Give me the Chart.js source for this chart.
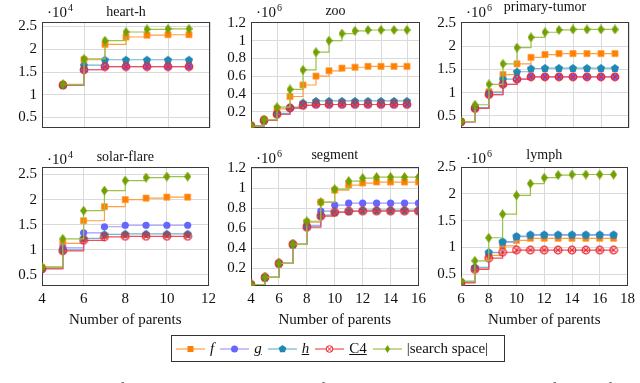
<!DOCTYPE html>
<html>
<head>
<meta charset="utf-8">
<script src="https://cdn.jsdelivr.net/npm/chart.js@4.4.0/dist/chart.umd.min.js"></script>
<style>
body { margin: 0; width: 640px; height: 383px; overflow: hidden; background: #fff; position: relative; font-family: "Liberation Serif", serif; color: #111; }
canvas { position: absolute; }
#legend { position: absolute; left: 171px; top: 335px; width: 328px; height: 25px; border: 1px solid #333; display: flex; align-items: center; padding-left: 4px; font-size: 15px; box-sizing: content-box; }
#legend svg { width: 29px; height: 12px; margin-right: 5px; }
#legend span { margin-right: 6px; }
#legend .u { text-decoration: underline; }
#caption { position: absolute; left: 0; top: 380px; font-size: 15px; white-space: nowrap; }
</style>
</head>
<body>
<canvas id="heart" width="218" height="142" style="left:2px;top:0px"></canvas>
<canvas id="zoo" width="219" height="142" style="left:211px;top:0px"></canvas>
<canvas id="tumor" width="218" height="142" style="left:421px;top:0px"></canvas>
<canvas id="solar" width="218" height="184" style="left:2px;top:145px"></canvas>
<canvas id="segment" width="219" height="184" style="left:211px;top:145px"></canvas>
<canvas id="lymph" width="218" height="184" style="left:421px;top:145px"></canvas>

<div id="legend">
  <svg><line x1="0" y1="6" x2="29" y2="6" stroke="#ffa040" stroke-width="1.2"/><rect x="11.5" y="3" width="6" height="6" fill="#ff8000"/></svg><span><i>f</i></span>
  <svg><line x1="0" y1="6" x2="29" y2="6" stroke="#9a9aff" stroke-width="1.2"/><circle cx="14.5" cy="6" r="3.5" fill="#6666ff"/></svg><span class="u"><i>g</i></span>
  <svg><line x1="0" y1="6" x2="29" y2="6" stroke="#72b3cf" stroke-width="1.2"/><polygon points="14.5,2 18.3,4.8 16.9,9.2 12.1,9.2 10.7,4.8" fill="#2089b3"/></svg><span class="u"><i>h</i></span>
  <svg><line x1="0" y1="6" x2="29" y2="6" stroke="#ee5059" stroke-width="1.2"/><circle cx="14.5" cy="6" r="3.3" fill="#fff" stroke="#e8232d" stroke-width="1"/><line x1="12.2" y1="3.7" x2="16.8" y2="8.3" stroke="#e8232d"/><line x1="16.8" y1="3.7" x2="12.2" y2="8.3" stroke="#e8232d"/></svg><span class="u">C4</span>
  <svg><line x1="0" y1="6" x2="29" y2="6" stroke="#9cc24a" stroke-width="1.2"/><polygon points="14.5,2 17,6 14.5,10 12,6" fill="#72a000"/></svg><span>|search space|</span>
</div>
<div id="caption">Figure 3: Number of parent sets remaining and size of the search space versus the number of parents for datasets with different bounds.</div>

<script>
// values, heart-h and solar-flare in units of 1e4, others in 1e6
const heartX = [5, 6, 7, 8, 9, 10, 11];
const heartF = [1.22, 1.77, 2.11, 2.27, 2.31, 2.32, 2.32];
const heartG = [1.21, 1.55, 1.62, 1.62, 1.62, 1.62, 1.62];
const heartH = [1.22, 1.65, 1.77, 1.77, 1.77, 1.77, 1.77];
const heartC4 = [1.21, 1.55, 1.62, 1.62, 1.62, 1.62, 1.62];
const heartSpace = [1.23, 1.79, 2.19, 2.38, 2.44, 2.45, 2.45];

const zooX = [4, 5, 6, 7, 8, 9, 10, 11, 12, 13, 14, 15, 16];
const zooF = [0.04, 0.11, 0.23, 0.37, 0.50, 0.60, 0.66, 0.69, 0.70, 0.71, 0.71, 0.71, 0.71];
const zooG = [0.04, 0.10, 0.17, 0.24, 0.27, 0.28, 0.28, 0.28, 0.28, 0.28, 0.28, 0.28, 0.28];
const zooH = [0.04, 0.10, 0.18, 0.25, 0.30, 0.32, 0.32, 0.32, 0.32, 0.32, 0.32, 0.32, 0.32];
const zooC4 = [0.04, 0.10, 0.17, 0.24, 0.27, 0.28, 0.28, 0.28, 0.28, 0.28, 0.28, 0.28, 0.28];
const zooSpace = [0.04, 0.11, 0.25, 0.45, 0.67, 0.87, 1.0, 1.08, 1.11, 1.12, 1.12, 1.12, 1.12];

const tumorX = [6, 7, 8, 9, 10, 11, 12, 13, 14, 15, 16, 17];
const tumorF = [0.38, 0.68, 1.02, 1.39, 1.62, 1.76, 1.82, 1.84, 1.84, 1.84, 1.84, 1.84];
const tumorG = [0.37, 0.66, 0.96, 1.18, 1.29, 1.34, 1.34, 1.34, 1.34, 1.34, 1.34, 1.34];
const tumorH = [0.38, 0.68, 1.0, 1.29, 1.45, 1.52, 1.53, 1.53, 1.53, 1.53, 1.53, 1.53];
const tumorC4 = [0.37, 0.66, 0.96, 1.18, 1.29, 1.34, 1.34, 1.34, 1.34, 1.34, 1.34, 1.34];
const tumorSpace = [0.38, 0.74, 1.18, 1.62, 1.97, 2.19, 2.30, 2.35, 2.36, 2.36, 2.36, 2.36];

const solarX = [4, 5, 6, 7, 8, 9, 10, 11];
const solarF = [0.65, 1.13, 1.58, 1.86, 2.0, 2.03, 2.05, 2.05];
const solarG = [0.63, 1.04, 1.34, 1.46, 1.49, 1.49, 1.49, 1.49];
const solarH = [0.63, 1.0, 1.23, 1.31, 1.32, 1.32, 1.32, 1.32];
const solarC4 = [0.62, 0.98, 1.19, 1.26, 1.27, 1.27, 1.27, 1.27];
const solarSpace = [0.66, 1.22, 1.78, 2.18, 2.38, 2.44, 2.46, 2.46];

const segX = [4, 5, 6, 7, 8, 9, 10, 11, 12, 13, 14, 15, 16];
const segF = [0.04, 0.11, 0.25, 0.44, 0.66, 0.86, 0.98, 1.03, 1.05, 1.06, 1.06, 1.06, 1.06];
const segG = [0.04, 0.11, 0.25, 0.44, 0.63, 0.77, 0.83, 0.85, 0.85, 0.85, 0.85, 0.85, 0.85];
const segH = [0.04, 0.11, 0.25, 0.44, 0.62, 0.73, 0.76, 0.77, 0.78, 0.78, 0.78, 0.78, 0.78];
const segC4 = [0.04, 0.11, 0.25, 0.44, 0.61, 0.72, 0.76, 0.77, 0.77, 0.77, 0.77, 0.77, 0.77];
const segSpace = [0.04, 0.11, 0.25, 0.44, 0.67, 0.86, 0.99, 1.07, 1.10, 1.11, 1.11, 1.11, 1.11];

const lymphX = [6, 7, 8, 9, 10, 11, 12, 13, 14, 15, 16, 17];
const lymphF = [0.35, 0.60, 0.85, 1.03, 1.13, 1.17, 1.17, 1.17, 1.17, 1.17, 1.17, 1.17];
const lymphG = [0.35, 0.62, 0.90, 1.10, 1.20, 1.23, 1.23, 1.23, 1.23, 1.23, 1.23, 1.23];
const lymphH = [0.36, 0.63, 0.91, 1.11, 1.21, 1.24, 1.24, 1.24, 1.24, 1.24, 1.24, 1.24];
const lymphC4 = [0.34, 0.59, 0.80, 0.91, 0.95, 0.95, 0.95, 0.95, 0.95, 0.95, 0.95, 0.95];
const lymphSpace = [0.37, 0.75, 1.18, 1.62, 1.97, 2.19, 2.30, 2.35, 2.36, 2.36, 2.36, 2.36];

// tick labels
const xTicks4to12 = [4, 6, 8, 10, 12];
const xTicks4to16 = [4, 6, 8, 10, 12, 14, 16];
const xTicks6to18 = [6, 8, 10, 12, 14, 16, 18];
const yTicksHalf = [0.5, 1, 1.5, 2, 2.5];
const yTicksFifth = [0.2, 0.4, 0.6, 0.8, 1, 1.2];

// marker images for the styles Chart.js does not have
function pentagon(color) {
    var c = document.createElement('canvas');
    c.width = 10; c.height = 10;
    var ctx = c.getContext('2d');
    ctx.beginPath();
    for (var i = 0; i < 5; i++) {
        var a = -Math.PI / 2 + i * 2 * Math.PI / 5;
        ctx.lineTo(5 + 4.3 * Math.cos(a), 5.4 + 4.3 * Math.sin(a));
    }
    ctx.closePath();
    ctx.fillStyle = color;
    ctx.fill();
    return c;
}
function otimes(color) {
    var c = document.createElement('canvas');
    c.width = 10; c.height = 10;
    var ctx = c.getContext('2d');
    ctx.strokeStyle = color;
    ctx.lineWidth = 1.2;
    ctx.beginPath();
    ctx.arc(5, 5, 3.8, 0, Math.PI * 2);
    ctx.stroke();
    ctx.beginPath();
    ctx.moveTo(2.4, 2.4); ctx.lineTo(7.6, 7.6);
    ctx.moveTo(7.6, 2.4); ctx.lineTo(2.4, 7.6);
    ctx.stroke();
    return c;
}
function diamond(color) {
    var c = document.createElement('canvas');
    c.width = 7; c.height = 10;
    var ctx = c.getContext('2d');
    ctx.beginPath();
    ctx.moveTo(3.5, 0); ctx.lineTo(7, 5); ctx.lineTo(3.5, 10); ctx.lineTo(0, 5);
    ctx.closePath();
    ctx.fillStyle = color;
    ctx.fill();
    return c;
}

var looks = {
    f: { line: '#ffa040', pointStyle: 'rect', radius: 4.3, fill: '#ff8000' },
    g: { line: '#9a9aff', pointStyle: 'circle', radius: 3.6, fill: '#6666ff' },
    h: { line: '#72b3cf', pointStyle: pentagon('#2089b3'), radius: 5, fill: '#2089b3' },
    c4: { line: '#ee5059', pointStyle: otimes('#e8232d'), radius: 5, fill: '#e8232d' },
    space: { line: '#9cc24a', pointStyle: diamond('#72a000'), radius: 5, fill: '#72a000' }
};

function ds(xs, ys, key) {
    var l = looks[key];
    return {
        data: xs.map(function (x, i) { return { x: x, y: ys[i] }; }),
        stepped: true,
        borderColor: l.line,
        borderWidth: 1.2,
        pointStyle: l.pointStyle,
        pointRadius: l.radius,
        pointBackgroundColor: l.fill,
        pointBorderColor: key == 'f' ? '#ffa040' : l.fill,
        pointBorderWidth: key == 'f' ? 0.8 : 0,
        fill: false
    };
}

var font = { family: '"Liberation Serif", serif', size: 15 };

const panelPlugin = {
    id: 'panel',
    beforeDatasetsDraw(chart) {
        var a = chart.chartArea, ctx = chart.ctx;
        ctx.save();
        ctx.strokeStyle = '#3a3a3a';
        ctx.lineWidth = 1;
        var l = Math.round(a.left) + 0.5, t = Math.round(a.top) + 0.5;
        var r = Math.round(a.right) - 0.5, b = Math.round(a.bottom) - 0.5;
        ctx.strokeRect(l, t, r - l, b - t);
        ctx.restore();
    },
    afterDraw(chart, args, o) {
        var a = chart.chartArea, ctx = chart.ctx;
        ctx.save();
        ctx.fillStyle = '#111';
        ctx.textBaseline = 'alphabetic';
        ctx.font = '14px "Liberation Serif"';
        ctx.textAlign = 'center';
        ctx.fillText(o.title, (a.left + a.right) / 2, o.titleY);
        ctx.textAlign = 'left';
        ctx.font = '15px "Liberation Serif"';
        ctx.fillText('·10', a.left + 5, o.expY);
        var w = ctx.measureText('·10').width;
        ctx.font = '10px "Liberation Serif"';
        ctx.fillText(o.exp, a.left + 6 + w, o.expY - 6);
        ctx.restore();
    }
};

function panel(id, p) {
    new Chart(document.getElementById(id), {
        type: 'line',
        data: {
            // first dataset is drawn on top
            datasets: [ds(p.x, p.space, 'space'), ds(p.x, p.c4, 'c4'), ds(p.x, p.h, 'h'), ds(p.x, p.g, 'g'), ds(p.x, p.f, 'f')]
        },
        options: {
            responsive: false,
            animation: false,
            events: [],
            layout: { padding: { top: 22, right: 10, bottom: p.bottom ? 0 : 2, left: 0 } },
            plugins: {
                legend: { display: false },
                tooltip: { enabled: false },
                panel: { title: p.title, exp: p.exp, titleY: p.titleY, expY: p.expY }
            },
            scales: {
                x: {
                    type: 'linear', min: p.xmin, max: p.xmax,
                    afterBuildTicks: function (s) { s.ticks = p.xTicks.map(function (v) { return { value: v }; }); },
                    afterFit: function (s) { s.height = p.bottom ? 43 : 0; },
                    ticks: { display: p.bottom, font: font, color: '#111', padding: 4, autoSkip: false, maxRotation: 0, callback: function (v) { return String(v); } },
                    grid: { color: '#dadada', drawTicks: false },
                    border: { display: false },
                    title: { display: p.bottom, text: 'Number of parents', font: { family: '"Liberation Serif", serif', size: 15 }, color: '#111', padding: { top: 0, bottom: 0 } }
                },
                y: {
                    min: p.ymin, max: p.ymax,
                    afterBuildTicks: function (s) { s.ticks = p.yTicks.map(function (v) { return { value: v }; }); },
                    afterFit: function (s) { s.width = 40; },
                    ticks: { font: font, color: '#111', padding: 5, callback: function (v) { return String(v); } },
                    grid: { color: '#dadada', drawTicks: false },
                    border: { display: false }
                }
            }
        },
        plugins: [panelPlugin]
    });
}

panel('heart', { title: 'heart-h', exp: '4', titleY: 16, expY: 17, x: heartX, f: heartF, g: heartG, h: heartH, c4: heartC4, space: heartSpace,
    xmin: 4, xmax: 12, xTicks: xTicks4to12, ymin: 0.27, ymax: 2.6, yTicks: yTicksHalf, bottom: false });
panel('zoo', { title: 'zoo', exp: '6', titleY: 15, expY: 17, x: zooX, f: zooF, g: zooG, h: zooH, c4: zooC4, space: zooSpace,
    xmin: 4, xmax: 17, xTicks: xTicks4to16, ymin: 0.015, ymax: 1.21, yTicks: yTicksFifth, bottom: false });
panel('tumor', { title: 'primary-tumor', exp: '6', titleY: 11, expY: 17, x: tumorX, f: tumorF, g: tumorG, h: tumorH, c4: tumorC4, space: tumorSpace,
    xmin: 6, xmax: 18, xTicks: xTicks6to18, ymin: 0.24, ymax: 2.52, yTicks: yTicksHalf, bottom: false });
panel('solar', { title: 'solar-flare', exp: '4', titleY: 16, expY: 19, x: solarX, f: solarF, g: solarG, h: solarH, c4: solarC4, space: solarSpace,
    xmin: 4, xmax: 12, xTicks: xTicks4to12, ymin: 0.28, ymax: 2.65, yTicks: yTicksHalf, bottom: true });
panel('segment', { title: 'segment', exp: '6', titleY: 14, expY: 18, x: segX, f: segF, g: segG, h: segH, c4: segC4, space: segSpace,
    xmin: 4, xmax: 16, xTicks: xTicks4to16, ymin: 0.025, ymax: 1.21, yTicks: yTicksFifth, bottom: true });
panel('lymph', { title: 'lymph', exp: '6', titleY: 14, expY: 18, x: lymphX, f: lymphF, g: lymphG, h: lymphH, c4: lymphC4, space: lymphSpace,
    xmin: 6, xmax: 18, xTicks: xTicks6to18, ymin: 0.28, ymax: 2.5, yTicks: yTicksHalf, bottom: true });
</script>
</body>
</html>
